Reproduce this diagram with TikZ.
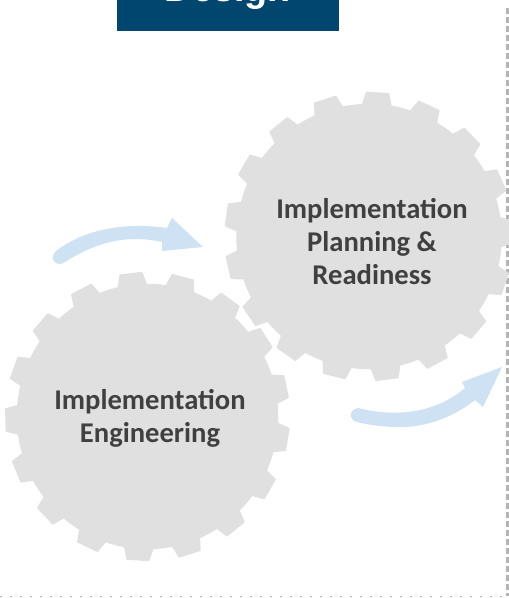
\documentclass[tikz,border=0pt]{standalone}
\usepackage{fontspec}
\setmainfont{Carlito}
\newfontfamily\headfont{Liberation Sans}
\definecolor{gearfill}{HTML}{E0E0E1}
\definecolor{headblue}{HTML}{00466E}
\definecolor{arrowblue}{HTML}{CFE2F3}
\definecolor{labelgrey}{HTML}{404040}
\definecolor{dotgrey}{HTML}{B4B4B4}
\tikzset{
  gearlabel/.style={font=\fontsize{28.6}{33}\selectfont\bfseries, text=labelgrey, align=center, inner sep=0pt},
  gearshape/.style={fill=gearfill, draw=gearfill, line width=1.5pt, line join=round},
  flow/.style={fill=arrowblue, draw=none},
  border/.style={dotgrey, line width=2.6pt, dash pattern=on 6pt off 3pt},
  bottomborder/.style={dotgrey, line width=1.2pt, dash pattern=on 1.6pt off 8.4pt},
}
% #1 centre x, #2 centre y (y up), #3 phase of first tooth, #4 horizontal scale
\newcommand{\gearat}[4]{%
  \filldraw[gearshape, shift={(#1,#2)}, xscale=#4] (#3-6.2:132)
  \foreach \k [evaluate=\k as \a using #3+\k*360/17] in {0,...,16} {
    -- (\a-4.4:144) -- (\a+4.4:144) -- (\a+6.2:132)
    arc[start angle=\a+6.2, end angle=\a+360/17-6.2, radius=132]
  } -- cycle;
}
\begin{document}
\begin{tikzpicture}[x=1pt,y=1pt]
\useasboundingbox (0,0) rectangle (509,598);
\clip (0,0) rectangle (509,598);
\fill[white] (0,0) rectangle (509,598);
% page borders
\coordinate (bordertop) at (507.5,590);
\coordinate (bordercorner) at (507.5,1.5);
\coordinate (borderleft) at (0,1.5);
\draw[border] (bordertop) -- (bordercorner);
\draw[bottomborder] (borderleft) -- (bordercorner);
% header
\fill[headblue] (117,567) rectangle (339,598);
\begin{scope}
\clip (117,567) rectangle (339,598);
\node[text=white, font=\headfont\fontsize{37.8}{40}\selectfont\bfseries, anchor=base, inner sep=0pt] (head) at (228,596.5) {Design};
\end{scope}
% gears
\gearat{369}{361.5}{1.9}{1}
\gearat{147.5}{181.5}{12}{0.985}
\node[gearlabel] (planning) at (372,356.5) {Implementation\\Planning \&\\Readiness};
\node[gearlabel] (engineering) at (150,180) {Implementation\\Engineering};
% flow arrows
\fill[flow] (56,347) .. controls (85,369) and (125,376) .. (167,370) -- (172,380) -- (203,351) -- (162,347) -- (162,356) .. controls (125,364) and (95,355) .. (65,336) .. controls (57,330) and (48,339) .. (56,347) -- cycle;
\fill[flow] (358,190) .. controls (385,183) and (430,180) .. (465,210) -- (462,216) -- (502,231) -- (483,191) -- (475,198) .. controls (450,178) and (420,170) .. (397,171) .. controls (380,171) and (365,174) .. (357,176) .. controls (349,178) and (348,188) .. (358,190) -- cycle;
\end{tikzpicture}
\end{document}
